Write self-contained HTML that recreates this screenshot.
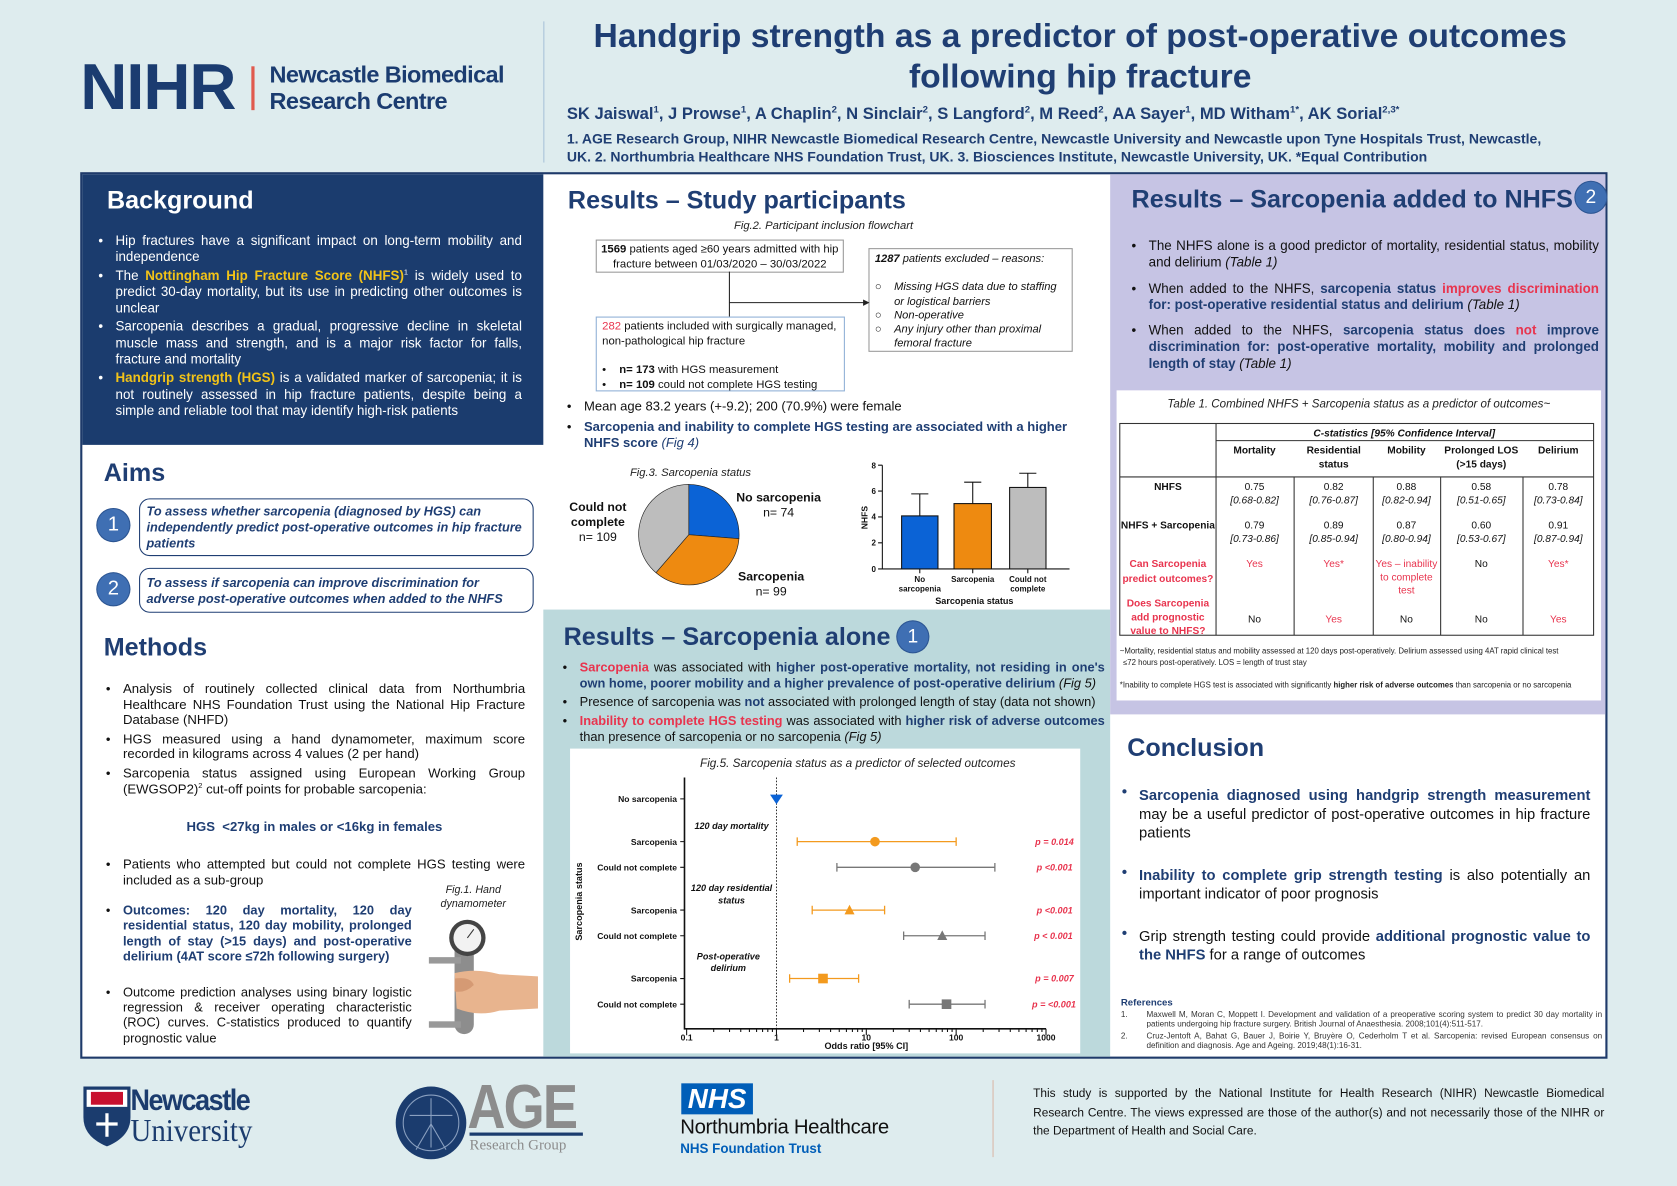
<!DOCTYPE html>
<html><head><meta charset="utf-8">
<style>
html,body{margin:0;padding:0}
body{width:1677px;height:1186px;overflow:hidden;background:#deecee;font-family:"Liberation Sans",Arial,sans-serif}
#w{position:absolute;left:0;top:0;width:1568px;height:1109px;transform:scale(1.06952,1.06943);transform-origin:0 0}
.a{position:absolute}
.nv{color:#1f3e73}
.b{font-weight:bold}
.i{font-style:italic}
.r{color:#e8344e}
.y{color:#f2c318;font-weight:bold}
.h{position:absolute;font-weight:bold;font-size:23.5px;color:#1f3e73;white-space:nowrap}
.ul{position:absolute;text-align:justify}
.ul div{position:relative}
.ul div:before{content:"•";position:absolute;left:-16px;font-weight:normal;color:#111}
.wt div:before{color:#fff}
.circ{position:absolute;border-radius:50%;background:#3f6fb3;color:#fff;text-align:center;font-size:19px;box-shadow:0 0 0 1px #2c5592}
</style></head><body><div id="w">

<!-- header -->
<div class="a b" style="left:75px;top:46px;font-size:61px;color:#1b3c70;letter-spacing:-1px;line-height:70px">NIHR</div>
<div class="a" style="left:235px;top:62px;width:3px;height:41px;background:#e05a4e"></div>
<div class="a b" style="left:252px;top:57px;font-size:22px;color:#1b3c70;line-height:25px;letter-spacing:-0.6px">Newcastle Biomedical<br>Research Centre</div>
<div class="a" style="left:508px;top:20px;width:1px;height:132px;background:#a8c2d8"></div>
<div class="a b nv" style="left:520px;top:14px;width:980px;text-align:center;font-size:31.5px;line-height:38px">Handgrip strength as a predictor of post-operative outcomes<br>following hip fracture</div>
<div class="a b nv" style="left:530px;top:97px;font-size:15.5px;white-space:nowrap">SK Jaiswal<sup style="font-size:9px">1</sup>, J Prowse<sup style="font-size:9px">1</sup>, A Chaplin<sup style="font-size:9px">2</sup>, N Sinclair<sup style="font-size:9px">2</sup>, S Langford<sup style="font-size:9px">2</sup>, M Reed<sup style="font-size:9px">2</sup>, AA Sayer<sup style="font-size:9px">1</sup>, MD Witham<sup style="font-size:9px">1*</sup>, AK Sorial<sup style="font-size:9px">2,3*</sup></div>
<div class="a b nv" style="left:530px;top:122px;width:972px;font-size:13.1px;line-height:16.5px;white-space:nowrap">1. AGE Research Group, NIHR Newcastle Biomedical Research Centre, Newcastle University and Newcastle upon Tyne Hospitals Trust, Newcastle,<br>UK. 2. Northumbria Healthcare NHS Foundation Trust, UK. 3. Biosciences Institute, Newcastle University, UK. *Equal Contribution</div>

<!-- frame panels -->
<div class="a" style="left:75px;top:161px;width:1428px;height:829px;background:#fff;border:2px solid #1e3a6a;box-sizing:border-box"></div>
<div class="a" style="left:77px;top:163px;width:431px;height:253px;background:#1b3c6e"></div>
<div class="a" style="left:508px;top:570px;width:530px;height:418px;background:#bcd9dc"></div>
<div class="a" style="left:1038px;top:163px;width:463px;height:505px;background:#c6c4e4"></div>
<div class="a" style="left:1044px;top:365px;width:453px;height:290px;background:#fff"></div>
<div class="a" style="left:533px;top:700px;width:477px;height:285px;background:#fff"></div>

<!-- Background -->
<div class="h" style="left:100px;top:174px;color:#fff">Background</div>
<div class="ul wt" style="left:108px;top:218px;width:380px;font-size:12.5px;line-height:15.3px;color:#fff">
<div style="margin-bottom:2px">Hip fractures have a significant impact on long-term mobility and independence</div>
<div style="margin-bottom:2px">The <span class="y">Nottingham Hip Fracture Score (NHFS)</span><sup style="font-size:7px;line-height:0">1</sup> is widely used to predict 30-day mortality, but its use in predicting other outcomes is unclear</div>
<div style="margin-bottom:2px">Sarcopenia describes a gradual, progressive decline in skeletal muscle mass and strength, and is a major risk factor for falls, fracture and mortality</div>
<div><span class="y">Handgrip strength (HGS)</span> is a validated marker of sarcopenia; it is not routinely assessed in hip fracture patients, despite being a simple and reliable tool that may identify high-risk patients</div>
</div>

<!-- Aims -->
<div class="h" style="left:97px;top:429px">Aims</div>
<div class="circ" style="left:91px;top:476px;width:30px;height:30px;line-height:30px">1</div>
<div class="circ" style="left:91px;top:536px;width:30px;height:30px;line-height:30px">2</div>
<div class="a" style="left:130px;top:466px;width:369px;height:54px;border:1px solid #1f3e73;border-radius:10px;box-sizing:border-box"></div>
<div class="a" style="left:130px;top:531px;width:369px;height:42px;border:1px solid #1f3e73;border-radius:10px;box-sizing:border-box"></div>
<div class="a b i nv" style="left:137px;top:471px;width:362px;font-size:11.9px;line-height:14.8px">To assess whether sarcopenia (diagnosed by HGS) can independently predict post-operative outcomes in hip fracture patients</div>
<div class="a b i nv" style="left:137px;top:538px;width:350px;font-size:11.9px;line-height:14.8px">To assess if sarcopenia can improve discrimination for adverse post-operative outcomes when added to the NHFS</div>

<!-- Methods -->
<div class="h" style="left:97px;top:592px">Methods</div>
<div class="ul" style="left:115px;top:637px;width:376px;font-size:12.3px;line-height:14.6px;color:#111">
<div style="margin-bottom:3px">Analysis of routinely collected clinical data from Northumbria Healthcare NHS Foundation Trust using the National Hip Fracture Database (NHFD)</div>
<div style="margin-bottom:3px">HGS measured using a hand dynamometer, maximum score recorded in kilograms across 4 values (2 per hand)</div>
<div>Sarcopenia status assigned using European Working Group (EWGSOP2)<sup style="font-size:7px;line-height:0">2</sup> cut-off points for probable sarcopenia:</div>
</div>
<div class="a b nv" style="left:80px;top:766px;width:428px;text-align:center;font-size:12.3px">HGS &nbsp;&lt;27kg in males or &lt;16kg in females</div>
<div class="ul" style="left:115px;top:801px;width:376px;font-size:12.3px;line-height:14.6px;color:#111">
<div>Patients who attempted but could not complete HGS testing were included as a sub-group</div>
</div>
<div class="ul" style="left:115px;top:844px;width:270px;font-size:12px;line-height:14.4px;color:#111">
<div class="b nv" style="margin-bottom:19px">Outcomes: 120 day mortality, 120 day residential status, 120 day mobility, prolonged length of stay (&gt;15 days) and post-operative delirium (4AT score ≤72h following surgery)</div>
<div>Outcome prediction analyses using binary logistic regression &amp; receiver operating characteristic (ROC) curves. C-statistics produced to quantify prognostic value</div>
</div>
<div class="a i" style="left:400px;top:826px;width:85px;text-align:center;font-size:10px;line-height:13px;color:#222">Fig.1. Hand dynamometer</div>
<svg class="a" style="left:395px;top:855px" width="110" height="120" viewBox="0 0 110 120">
<rect x="30" y="12" width="18" height="100" rx="9" fill="#8d8d8d"/>
<circle cx="42" cy="22" r="17" fill="#444"/><circle cx="42" cy="22" r="13" fill="#f2f2f2"/><line x1="42" y1="22" x2="48" y2="14" stroke="#333"/>
<rect x="6" y="40" width="30" height="6" fill="#999"/><rect x="6" y="100" width="30" height="6" fill="#999"/>
<path d="M30 55 Q50 50 72 56 L108 58 L108 88 L72 90 Q52 96 32 88 Z" fill="#e8b48e"/>
<path d="M30 60 Q45 58 48 66 Q40 74 30 72 Z" fill="#d59a74"/>
</svg>

<!-- Study participants -->
<div class="h" style="left:531px;top:174px">Results – Study participants</div>
<div class="a i" style="left:560px;top:205px;width:420px;text-align:center;font-size:10.5px;color:#222">Fig.2. Participant inclusion flowchart</div>
<div class="a" style="left:557px;top:224px;width:232px;height:31px;border:1px solid #999;box-sizing:border-box;text-align:center;font-size:10.6px;line-height:13.5px;padding-top:2px;color:#111"><b>1569</b> patients aged ≥60 years admitted with hip fracture between 01/03/2020 – 30/03/2022</div>
<div class="a" style="left:812px;top:232px;width:191px;height:97px;border:1px solid #999;box-sizing:border-box;font-size:10.4px;line-height:13.3px;padding:3px 5px;color:#111;font-style:italic"><b>1287</b> patients excluded – reasons:
<div style="margin-top:13px;padding-left:18px;position:relative"><span style="position:absolute;left:0;font-style:normal">○</span>Missing HGS data due to staffing or logistical barriers</div>
<div style="padding-left:18px;position:relative"><span style="position:absolute;left:0;font-style:normal">○</span>Non-operative</div>
<div style="padding-left:18px;position:relative"><span style="position:absolute;left:0;font-style:normal">○</span>Any injury other than proximal femoral fracture</div></div>
<svg class="a" style="left:670px;top:250px" width="150" height="60"><path d="M12 4 V58 M12 33 H140" stroke="#222" fill="none"/><path d="M137 30 L143 33 L137 36Z" fill="#222"/></svg>
<div class="a" style="left:557px;top:296px;width:233px;height:70px;border:1px solid #8fb0d6;box-sizing:border-box;font-size:10.6px;line-height:13.5px;padding:2px 5px;color:#111;background:#fff"><span class="r">282</span> patients included with surgically managed, non-pathological hip fracture
<div style="margin-top:14px;padding-left:16px;position:relative"><span style="position:absolute;left:0">•</span><b>n= 173</b> with HGS measurement</div>
<div style="padding-left:16px;position:relative"><span style="position:absolute;left:0">•</span><b>n= 109</b> could not complete HGS testing</div></div>
<div class="ul" style="left:546px;top:373px;width:485px;font-size:12.2px;line-height:15.5px;color:#111">
<div style="margin-bottom:3px">Mean age 83.2 years (+-9.2); 200 (70.9%) were female</div>
<div class="b nv" style="width:470px;text-align:left">Sarcopenia and inability to complete HGS testing are associated with a higher NHFS score <span class="i" style="font-weight:normal">(Fig 4)</span></div>
</div>
<div class="a i" style="left:589px;top:436px;font-size:10.5px;color:#222">Fig.3. Sarcopenia status</div>
<svg class="a" style="left:520px;top:430px" width="520" height="140">
<g transform="translate(-520,-430)">
<path d="M644,500 L644,453 A47,47 0 0 1 690.9,503.7 Z" fill="#0b63d6" stroke="#222" stroke-width="0.6"/>
<path d="M644,500 L690.9,503.7 A47,47 0 0 1 613.3,535.5 Z" fill="#ee8a10" stroke="#222" stroke-width="0.6"/>
<path d="M644,500 L613.3,535.5 A47,47 0 0 1 644,453 Z" fill="#bdbdbd" stroke="#222" stroke-width="0.6"/>
<g font-family="Liberation Sans,Arial,sans-serif" font-size="11.5" fill="#111" text-anchor="middle">
<text x="728" y="469" font-weight="bold">No sarcopenia</text><text x="728" y="483">n= 74</text>
<text x="559" y="478" font-weight="bold">Could not</text><text x="559" y="492" font-weight="bold">complete</text><text x="559" y="506">n= 109</text>
<text x="721" y="543" font-weight="bold">Sarcopenia</text><text x="721" y="557">n= 99</text>
<text x="905" y="423" font-size="10.5" font-style="italic" fill="#222">Fig.4. Sarcopenia status and NHFS (p &lt; 0.001)</text>
</g>
<g stroke="#111" fill="none" stroke-width="1">
<path d="M825,435 V532 H1000"/>
<path d="M821,435 H825 M821,459.2 H825 M821,483.4 H825 M821,507.6 H825 M821,532 H825"/>
<path d="M860,482.4 V461.8 M852,461.8 H868 M909.5,470.9 V450.9 M901.5,450.9 H917.5 M961,455.8 V442.5 M953,442.5 H969"/>
<path d="M860,532 V536 M909.5,532 V536 M961,532 V536"/>
</g>
<rect x="843" y="482.4" width="34" height="49.6" fill="#0b63d6" stroke="#111"/>
<rect x="892" y="470.9" width="35" height="61.1" fill="#ee8a10" stroke="#111"/>
<rect x="944" y="455.8" width="34" height="76.2" fill="#bdbdbd" stroke="#111"/>
<g font-family="Liberation Sans,Arial,sans-serif" font-size="7.5" font-weight="bold" fill="#111" text-anchor="end">
<text x="819" y="438">8</text><text x="819" y="462">6</text><text x="819" y="486">4</text><text x="819" y="510">2</text><text x="819" y="535">0</text>
</g>
<g font-family="Liberation Sans,Arial,sans-serif" font-size="7.5" font-weight="bold" fill="#111" text-anchor="middle">
<text x="860" y="544">No</text><text x="860" y="553">sarcopenia</text><text x="909.5" y="544">Sarcopenia</text><text x="961" y="544">Could not</text><text x="961" y="553">complete</text>
<text x="911" y="565" font-size="8.5">Sarcopenia status</text>
<text x="0" y="0" font-size="8" transform="translate(811,484) rotate(-90)">NHFS</text>
</g>
</g></svg>

<!-- Sarcopenia alone -->
<div class="h" style="left:527px;top:582px">Results – Sarcopenia alone</div>
<div class="circ" style="left:839px;top:581px;width:29px;height:29px;line-height:29px;font-size:18px">1</div>
<div class="ul" style="left:542px;top:617px;width:491px;font-size:12px;line-height:15.2px;color:#111">
<div style="margin-bottom:2px"><span class="r b">Sarcopenia</span> was associated with <span class="b nv">higher post-operative mortality, not residing in one's own home, poorer mobility and a higher prevalence of post-operative delirium</span> <i>(Fig 5)</i></div>
<div style="margin-bottom:2px;text-align:left">Presence of sarcopenia was <span class="b nv">not</span> associated with prolonged length of stay (data not shown)</div>
<div><span class="r b">Inability to complete HGS testing</span> was associated with <span class="b nv">higher risk of adverse outcomes</span> than presence of sarcopenia or no sarcopenia <i>(Fig 5)</i></div>
</div>
<svg class="a" style="left:533px;top:700px" width="477" height="285">
<g transform="translate(-533,-700)" font-family="Liberation Sans,Arial,sans-serif">
<text x="802" y="717" font-size="11" font-style="italic" text-anchor="middle" fill="#222">Fig.5. Sarcopenia status as a predictor of selected outcomes</text>
<g stroke="#111" fill="none">
<path d="M640,727 V962 H978" stroke-width="1.5"/>
<path d="M636,747H640 M636,787H640 M636,811H640 M636,851H640 M636,875H640 M636,915H640 M636,939H640"/>
<path d="M642,962V968 M726,962V968 M810,962V968 M894,962V968 M978,962V968"/>
<path d="M667.3,962V965 M682.1,962V965 M692.6,962V965 M700.7,962V965 M707.4,962V965 M713,962V965 M717.9,962V965 M722.2,962V965
M751.3,962V965 M766.1,962V965 M776.6,962V965 M784.7,962V965 M791.4,962V965 M797,962V965 M801.9,962V965 M806.2,962V965
M835.3,962V965 M850.1,962V965 M860.6,962V965 M868.7,962V965 M875.4,962V965 M881,962V965 M885.9,962V965 M890.2,962V965
M919.3,962V965 M934.1,962V965 M944.6,962V965 M952.7,962V965 M959.4,962V965 M965,962V965 M969.9,962V965 M974.2,962V965"/>
<path d="M726,727V962" stroke-dasharray="1.5,1.5" stroke-width="0.8"/>
</g>
<g stroke-width="1.2" fill="none">
<path d="M745.4,787H894 M745.4,783V791 M894,783V791 M759.4,851H827.1 M759.4,847V855 M827.1,847V855 M738.3,915H802.8 M738.3,911V919 M802.8,911V919" stroke="#f39a1e"/>
<path d="M782.5,811H930.2 M782.5,807V815 M930.2,807V815 M844.9,875H921 M844.9,871V879 M921,871V879 M850.1,939H921 M850.1,935V943 M921,935V943" stroke="#777"/>
</g>
<path d="M720,743 H732 L726,752Z" fill="#0b63d6"/>
<circle cx="818.1" cy="787" r="4.5" fill="#f39a1e"/>
<circle cx="855.7" cy="811" r="4.5" fill="#777"/>
<path d="M794.3,846 L799,855 L789.6,855Z" fill="#f39a1e"/>
<path d="M881,870 L885.7,879 L876.3,879Z" fill="#777"/>
<rect x="765" y="910.5" width="9" height="9" fill="#f39a1e"/>
<rect x="880.5" y="934.5" width="9" height="9" fill="#777"/>
<g font-size="8" font-weight="bold" fill="#111" text-anchor="end">
<text x="633" y="750">No sarcopenia</text><text x="633" y="790">Sarcopenia</text><text x="633" y="814">Could not complete</text>
<text x="633" y="854">Sarcopenia</text><text x="633" y="878">Could not complete</text><text x="633" y="918">Sarcopenia</text><text x="633" y="942">Could not complete</text>
</g>
<g font-size="8.5" font-weight="bold" font-style="italic" fill="#111" text-anchor="middle">
<text x="684" y="775">120 day mortality</text><text x="684" y="833">120 day residential</text><text x="684" y="845">status</text>
<text x="681" y="897">Post-operative</text><text x="681" y="908">delirium</text>
</g>
<g font-size="8.5" font-weight="bold" font-style="italic" fill="#e8344e" text-anchor="end">
<text x="1004" y="790">p = 0.014</text><text x="1003" y="814">p &lt;0.001</text><text x="1003" y="854">p &lt;0.001</text>
<text x="1003" y="878">p &lt; 0.001</text><text x="1004" y="918">p = 0.007</text><text x="1006" y="942">p = &lt;0.001</text>
</g>
<g font-size="8" font-weight="bold" fill="#111" text-anchor="middle">
<text x="642" y="973">0.1</text><text x="726" y="973">1</text><text x="810" y="973">10</text><text x="894" y="973">100</text><text x="978" y="973">1000</text>
<text x="810" y="981" font-size="8.5">Odds ratio [95% CI]</text>
<text x="0" y="0" font-size="8.5" transform="translate(544,843) rotate(-90)">Sarcopenia status</text>
</g>
</g></svg>

<!-- Sarcopenia added to NHFS -->
<div class="h" style="left:1058px;top:173px">Results – Sarcopenia added to NHFS</div>
<div class="circ" style="left:1473px;top:170px;width:29px;height:29px;line-height:29px;font-size:18px">2</div>
<div class="ul" style="left:1074px;top:223px;width:421px;font-size:12.5px;line-height:15.3px;color:#111">
<div style="margin-bottom:9px">The NHFS alone is a good predictor of mortality, residential status, mobility and delirium <i>(Table 1)</i></div>
<div style="margin-bottom:9px">When added to the NHFS, <span class="b nv">sarcopenia status</span> <span class="b r">improves discrimination</span> <span class="b nv">for: post-operative residential status and delirium</span> <i>(Table 1)</i></div>
<div>When added to the NHFS, <span class="b nv">sarcopenia status does</span> <span class="b r">not</span> <span class="b nv">improve discrimination for: post-operative mortality, mobility and prolonged length of stay</span> <i>(Table 1)</i></div>
</div>
<div class="a i" style="left:1044px;top:372px;width:453px;text-align:center;font-size:10.8px;color:#222">Table 1. Combined NHFS + Sarcopenia status as a predictor of outcomes~</div>
<svg class="a" style="left:1044px;top:390px" width="455" height="270">
<g transform="translate(-1044,-390)" font-family="Liberation Sans,Arial,sans-serif" font-size="9.5" text-anchor="middle" fill="#111">
<g stroke="#333" fill="none" stroke-width="1">
<rect x="1047" y="396" width="443" height="198"/>
<path d="M1137,396V594 M1137,412H1490 M1047,446H1490 M1210,446V594 M1284,446V594 M1347,446V594 M1424,446V594"/>
</g>
<text x="1313" y="408" font-weight="bold" font-style="italic">C-statistics [95% Confidence Interval]</text>
<g font-weight="bold"><text x="1173" y="424">Mortality</text><text x="1247" y="424">Residential</text><text x="1247" y="437">status</text><text x="1315" y="424">Mobility</text><text x="1385" y="424">Prolonged LOS</text><text x="1385" y="437">(&gt;15 days)</text><text x="1457" y="424">Delirium</text>
<text x="1092" y="458">NHFS</text><text x="1092" y="494">NHFS + Sarcopenia</text></g>
<text x="1173" y="458">0.75</text><text x="1247" y="458">0.82</text><text x="1315" y="458">0.88</text><text x="1385" y="458">0.58</text><text x="1457" y="458">0.78</text>
<g font-style="italic"><text x="1173" y="471">[0.68-0.82]</text><text x="1247" y="471">[0.76-0.87]</text><text x="1315" y="471">[0.82-0.94]</text><text x="1385" y="471">[0.51-0.65]</text><text x="1457" y="471">[0.73-0.84]</text></g>
<text x="1173" y="494">0.79</text><text x="1247" y="494">0.89</text><text x="1315" y="494">0.87</text><text x="1385" y="494">0.60</text><text x="1457" y="494">0.91</text>
<g font-style="italic"><text x="1173" y="507">[0.73-0.86]</text><text x="1247" y="507">[0.85-0.94]</text><text x="1315" y="507">[0.80-0.94]</text><text x="1385" y="507">[0.53-0.67]</text><text x="1457" y="507">[0.87-0.94]</text></g>
<g fill="#e8344e"><g font-weight="bold"><text x="1092" y="567">Does Sarcopenia</text><text x="1092" y="580">add prognostic</text><text x="1092" y="593">value to NHFS?</text>
<text x="1092" y="530">Can Sarcopenia</text><text x="1092" y="544">predict outcomes?</text></g>
<text x="1173" y="530">Yes</text><text x="1247" y="530">Yes*</text><text x="1315" y="530">Yes – inability</text><text x="1315" y="543">to complete</text><text x="1315" y="555">test</text><text x="1457" y="530">Yes*</text>
<text x="1247" y="582">Yes</text><text x="1457" y="582">Yes</text></g>
<text x="1385" y="530">No</text><text x="1173" y="582">No</text><text x="1315" y="582">No</text><text x="1385" y="582">No</text>
<g font-size="7.3" text-anchor="start" fill="#222"><text x="1047" y="611">~Mortality, residential status and mobility assessed at 120 days post-operatively. Delirium assessed using 4AT rapid clinical test</text>
<text x="1050" y="622">≤72 hours post-operatively. LOS = length of trust stay</text>
<text x="1047" y="643">*Inability to complete HGS test is associated with significantly <tspan font-weight="bold">higher risk of adverse outcomes</tspan> than sarcopenia or no sarcopenia</text></g>
</g></svg>

<!-- Conclusion -->
<div class="h" style="left:1054px;top:686px">Conclusion</div>
<div class="a" style="left:1065px;top:735px;width:422px;font-size:13.8px;line-height:17.5px;color:#111;text-align:justify">
<div style="position:relative;margin-bottom:22px"><span class="b nv" style="position:absolute;left:-16px;top:-3px">•</span><span class="b nv">Sarcopenia diagnosed using handgrip strength measurement</span> may be a useful predictor of post-operative outcomes in hip fracture patients</div>
<div style="position:relative;margin-bottom:22px"><span class="b nv" style="position:absolute;left:-16px;top:-3px">•</span><span class="b nv">Inability to complete grip strength testing</span> is also potentially an important indicator of poor prognosis</div>
<div style="position:relative"><span class="b nv" style="position:absolute;left:-16px;top:-3px">•</span>Grip strength testing could provide <span class="b nv">additional prognostic value to the NHFS</span> for a range of outcomes</div>
</div>
<div class="a b nv" style="left:1048px;top:932px;font-size:9px">References</div>
<div class="a" style="left:1048px;top:945px;width:450px;font-size:7.6px;line-height:8.6px;color:#333">
<div style="padding-left:24px;position:relative;text-align:justify;margin-bottom:3px"><span style="position:absolute;left:0">1.</span>Maxwell M, Moran C, Moppett I. Development and validation of a preoperative scoring system to predict 30 day mortality in patients undergoing hip fracture surgery. British Journal of Anaesthesia. 2008;101(4):511-517.</div>
<div style="padding-left:24px;position:relative;text-align:justify"><span style="position:absolute;left:0">2.</span>Cruz-Jentoft A, Bahat G, Bauer J, Boirie Y, Bruyère O, Cederholm T et al. Sarcopenia: revised European consensus on definition and diagnosis. Age and Ageing. 2019;48(1):16-31.</div>
</div>

<!-- footer -->
<svg class="a" style="left:77px;top:1015px" width="46" height="58"><path d="M1 1H45V30Q45 48 23 57Q1 48 1 30Z" fill="#1b3c6e"/><rect x="4" y="4" width="38" height="16" fill="#fff"/><rect x="8" y="6" width="30" height="12" fill="#c8102e"/><path d="M23 26V48M13 36H33" stroke="#fff" stroke-width="3"/></svg>
<div class="a b" style="left:122px;top:1013px;font-size:28px;color:#1b3c6e;letter-spacing:-1.5px;line-height:32px;transform:scaleX(0.9);transform-origin:0 0">Newcastle</div>
<div class="a" style="left:122px;top:1042px;font-size:30px;color:#1b3c6e;font-family:'Liberation Serif',serif;line-height:32px;transform:scaleX(0.9);transform-origin:0 0">University</div>
<svg class="a" style="left:369px;top:1015px" width="68" height="70"><ellipse cx="34" cy="35" rx="33" ry="34" fill="#1b3c6e"/><circle cx="34" cy="35" r="26" fill="none" stroke="#8aa0c0" stroke-width="1"/><path d="M34 12V58M14 28H54M20 60L34 36L48 60" stroke="#8aa0c0" fill="none"/></svg>
<div class="a b" style="left:437px;top:1006px;font-size:58px;color:#8c8c8c;letter-spacing:-2px;line-height:60px;transform:scaleX(0.85);transform-origin:0 0">AGE</div>
<div class="a" style="left:439px;top:1059px;width:106px;height:3px;background:#1b3c6e"></div>
<div class="a" style="left:439px;top:1064px;font-size:14px;color:#8c8c8c;font-family:'Liberation Serif',serif">Research Group</div>
<div class="a b i" style="left:637px;top:1013px;width:67px;height:29px;background:#005eb8;color:#fff;font-size:26px;line-height:29px;text-align:center">NHS</div>
<div class="a" style="left:636px;top:1044px;font-size:19px;color:#111;letter-spacing:-0.3px">Northumbria Healthcare</div>
<div class="a b" style="left:636px;top:1067px;font-size:12.5px;color:#005eb8">NHS Foundation Trust</div>
<div class="a" style="left:928px;top:1010px;width:1px;height:72px;background:#d9b8a8"></div>
<div class="a" style="left:966px;top:1015px;width:534px;font-size:11.1px;line-height:17.5px;color:#111;text-align:justify">This study is supported by the National Institute for Health Research (NIHR) Newcastle Biomedical Research Centre. The views expressed are those of the author(s) and not necessarily those of the NIHR or the Department of Health and Social Care.</div>

</div></body></html>
